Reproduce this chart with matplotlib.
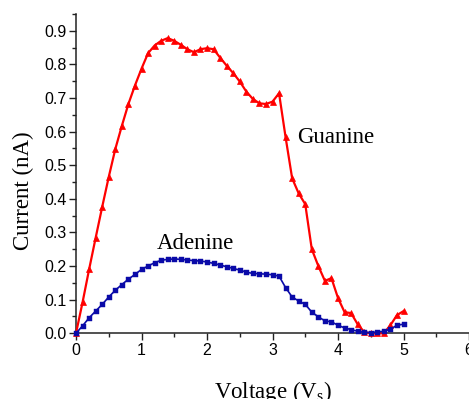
import matplotlib
matplotlib.use("Agg")
import matplotlib.pyplot as plt
from matplotlib.ticker import MultipleLocator, FormatStrFormatter

voltage = [0.0, 0.1, 0.2, 0.3, 0.4, 0.5, 0.6, 0.7, 0.8, 0.9,
           1.0, 1.1, 1.2, 1.3, 1.4, 1.5, 1.6, 1.7, 1.8, 1.9,
           2.0, 2.1, 2.2, 2.3, 2.4, 2.5, 2.6, 2.7, 2.8, 2.9,
           3.0, 3.1, 3.2, 3.3, 3.4, 3.5, 3.6, 3.7, 3.8, 3.9,
           4.0, 4.1, 4.2, 4.3, 4.4, 4.5, 4.6, 4.7, 4.8, 4.9, 5.0]

guanine = [0.0, 0.092, 0.19, 0.284, 0.376, 0.465, 0.548, 0.617, 0.682, 0.737,
           0.787, 0.833, 0.856, 0.870, 0.878, 0.870, 0.858, 0.845, 0.836, 0.845,
           0.848, 0.845, 0.820, 0.796, 0.774, 0.749, 0.719, 0.697, 0.684, 0.682,
           0.689, 0.714, 0.583, 0.461, 0.416, 0.384, 0.250, 0.200, 0.156, 0.164,
           0.105, 0.063, 0.060, 0.027, 0.004, 0.0, 0.0, 0.0, 0.024, 0.054, 0.066]

adenine = [0.0, 0.022, 0.046, 0.066, 0.086, 0.108, 0.128, 0.145, 0.161, 0.175,
           0.190, 0.200, 0.210, 0.217, 0.220, 0.221, 0.220, 0.218, 0.216, 0.215,
           0.212, 0.208, 0.203, 0.198, 0.193, 0.188, 0.182, 0.178, 0.177, 0.176,
           0.174, 0.170, 0.136, 0.108, 0.096, 0.086, 0.063, 0.049, 0.037, 0.034,
           0.024, 0.016, 0.011, 0.006, 0.003, 0.002, 0.004, 0.006, 0.012, 0.024, 0.027]

series_labels = ["Guanine", "Adenine"]
x_label = "Voltage (V$_{\\mathrm{s}}$)"
y_label = "Current (nA)"

plt.rcParams['mathtext.fontset'] = 'custom'
plt.rcParams['mathtext.rm'] = 'Liberation Serif'
plt.rcParams['mathtext.it'] = 'Liberation Serif:italic'

fig = plt.figure(figsize=(4.69, 3.99), dpi=100)
ax = fig.add_axes([76/469, 65.7/399, 393/469, 319.4/399])

ax.plot(voltage, guanine, color='#FF0000', lw=1.6, marker='^', ms=5,
        markeredgewidth=0.5, clip_on=False, zorder=3)
ax.plot(voltage, adenine, color='#0A0AA8', lw=1.2, marker='s', ms=3.6,
        markeredgewidth=0.3, clip_on=False, zorder=3)

ax.set_xlim(0, 6)
ax.set_ylim(0, 0.95)
ax.xaxis.set_major_locator(MultipleLocator(1))
ax.xaxis.set_minor_locator(MultipleLocator(0.5))
ax.yaxis.set_major_locator(MultipleLocator(0.1))
ax.yaxis.set_minor_locator(MultipleLocator(0.05))
ax.yaxis.set_major_formatter(FormatStrFormatter('%.1f'))
ax.xaxis.set_major_formatter(FormatStrFormatter('%d'))

for s in ['top', 'right']:
    ax.spines[s].set_visible(False)
for s in ['left', 'bottom']:
    ax.spines[s].set_linewidth(1.1)
    ax.spines[s].set_color('#222222')

ax.tick_params(which='major', direction='out', length=5, width=1.0, color='#222222',
               labelsize=11.5, pad=2)
ax.tick_params(which='minor', direction='out', length=3, width=1.0, color='#222222')
for lab in ax.get_xticklabels() + ax.get_yticklabels():
    lab.set_family('Liberation Sans')

ax.set_xlabel(x_label, family='Liberation Serif', fontsize=16.5, va='baseline')
ax.xaxis.set_label_coords(0.5, (333.3-398)/319.4)
ax.set_ylabel(y_label, family='Liberation Serif', fontsize=16.5, va='center')
ax.yaxis.set_label_coords((23-76)/393, (333.3-190.5)/319.4)

ax.text(3.37, 0.566, series_labels[0], family='Liberation Serif', fontsize=16.5,
        ha='left', va='baseline')
ax.text(1.23, 0.251, series_labels[1], family='Liberation Serif', fontsize=16.5,
        ha='left', va='baseline')

fig.savefig("out.png", dpi=100)
